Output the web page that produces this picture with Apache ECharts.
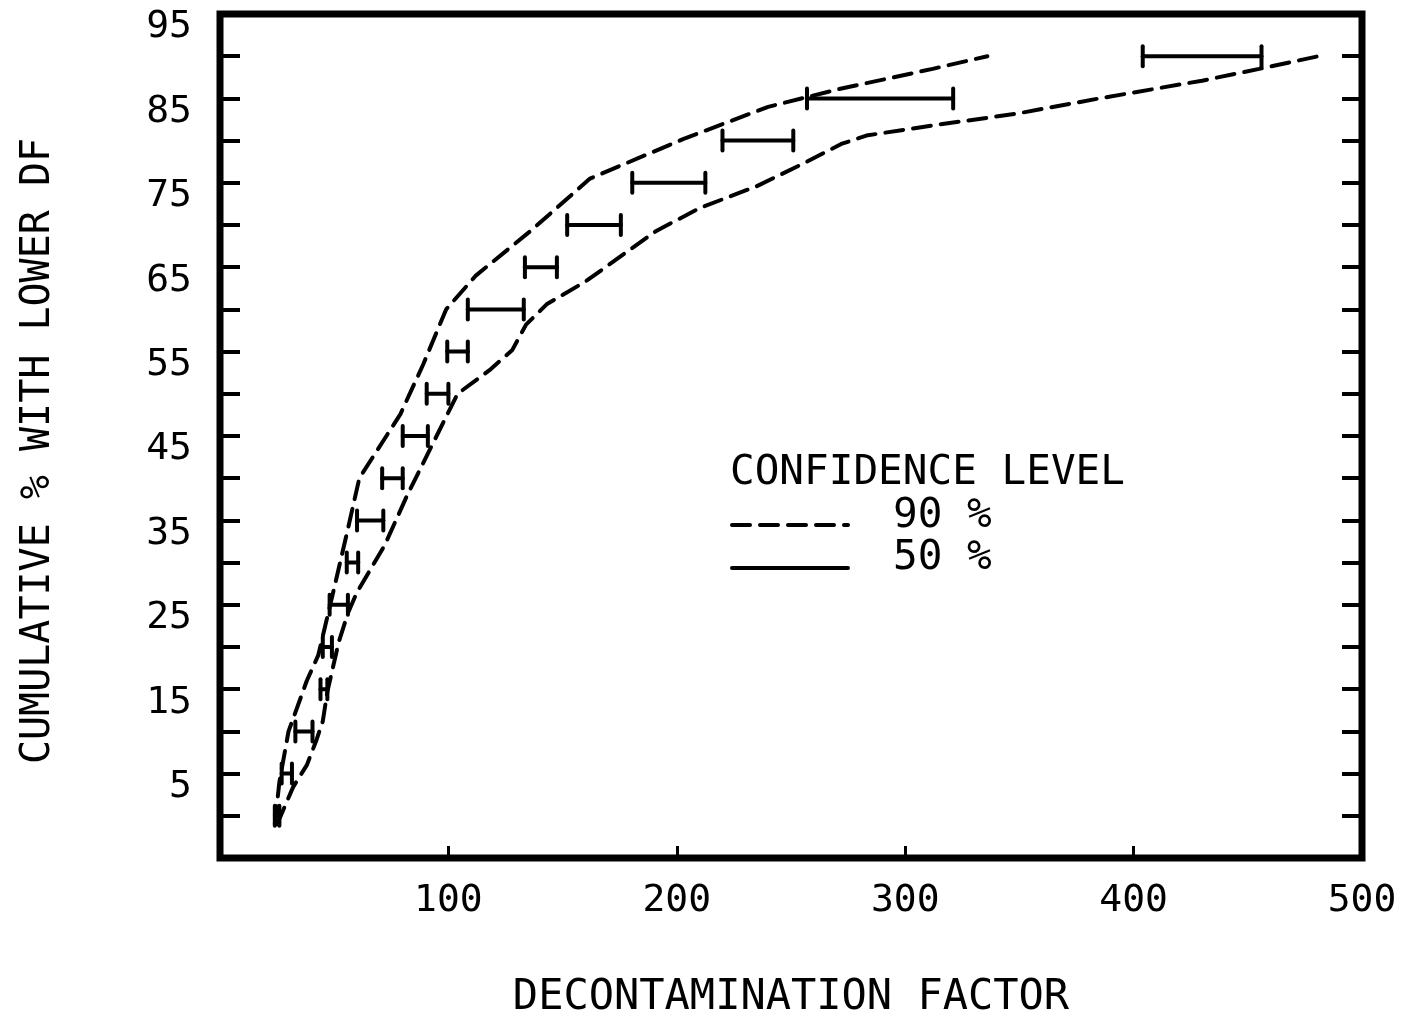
<!DOCTYPE html>
<html>
<head>
<meta charset="utf-8">
<script src="https://cdn.jsdelivr.net/npm/echarts@6/dist/echarts.min.js"></script>
<style>
  html, body { margin: 0; padding: 0; background: #fff; }
  #main { width: 1408px; height: 1024px; }
</style>
</head>
<body>
<div id="main"></div>
<script>
// 90% confidence bounds (dashed), [DF, cumulative %]
const upperBound = [
  [24, -1], [26, 4], [30, 10], [38, 16], [43, 19], [50, 27], [56, 34], [61, 40],
  [79, 47.6], [89, 53.5], [99, 60], [112, 64], [136, 69.3], [162, 75.5],
  [203, 80.2], [240, 84], [271, 86.1], [312, 88.5], [336, 90]
];
const lowerBound = [
  [25, -1], [32, 3.4], [38, 6], [42, 8.8], [45, 11.2], [47, 14.7], [52, 20.6],
  [56, 24], [60, 26.5], [72, 32], [82, 38], [93, 44], [104, 50], [118, 52.8],
  [128, 55.2], [134, 58.2], [143, 60.6], [160, 63.3], [191, 69.3], [210, 72],
  [235, 74.6], [254, 77.1], [272, 79.6], [283, 80.6], [312, 81.8], [349, 83.2],
  [385, 85], [430, 87.1], [455, 88.5], [481, 90]
];

// 50% confidence intervals (solid bars)
const levels = [0, 5, 10, 15, 20, 25, 30, 35, 40, 45, 50, 55, 60, 65, 70, 75, 80, 85, 90];
const barLow  = [24, 27, 33, 44, 45, 48, 55.5, 60, 71, 80, 90.5, 99.5, 108.5, 133.5, 152, 180.5, 220, 257, 404];
const barHigh = [26, 31.5, 40.5, 47, 49, 56, 60.5, 71.5, 80, 91, 100, 108.5, 133, 147.5, 175.5, 212.5, 251, 321, 456];

const xTicks = [100, 200, 300, 400, 500];
const yTickLabels = [5, 15, 25, 35, 45, 55, 65, 75, 85, 95];

const FONT = '"DejaVu Sans Mono", monospace';

const chart = echarts.init(document.getElementById('main'), null, { renderer: 'canvas' });

const barData = levels.map((y, i) => [barLow[i], barHigh[i], y]);

function renderBar(params, api) {
  const a = api.coord([api.value(0), api.value(2)]);
  const b = api.coord([api.value(1), api.value(2)]);
  const cap = 10;
  const style = { stroke: '#000', lineWidth: 4, lineCap: 'round' };
  return {
    type: 'group',
    children: [
      { type: 'line', shape: { x1: a[0], y1: a[1], x2: b[0], y2: b[1] }, style: style },
      { type: 'line', shape: { x1: a[0], y1: a[1] - cap, x2: a[0], y2: a[1] + cap }, style: style },
      { type: 'line', shape: { x1: b[0], y1: b[1] - cap, x2: b[0], y2: b[1] + cap }, style: style }
    ]
  };
}

const yAxisBase = {
  type: 'value',
  min: -5,
  max: 95,
  interval: 5,
  splitLine: { show: false },
  axisLine: { show: false, onZero: false },
  axisTick: { show: true, inside: true, length: 20, lineStyle: { color: '#000', width: 4 } }
};

const option = {
  backgroundColor: '#fff',
  animation: false,
  grid: {
    left: 220, right: 46, top: 14, bottom: 159,
    show: true, borderColor: '#000', borderWidth: 7, backgroundColor: 'transparent'
  },
  xAxis: {
    type: 'value',
    min: 0,
    max: 500,
    interval: 100,
    name: 'DECONTAMINATION FACTOR',
    nameLocation: 'middle',
    nameGap: 119,
    nameTextStyle: { fontFamily: FONT, fontSize: 42, color: '#000' },
    splitLine: { show: false },
    axisLine: { show: false, onZero: false },
    axisTick: { show: true, inside: true, length: 12, lineStyle: { color: '#000', width: 3 } },
    axisLabel: {
      margin: 24,
      fontFamily: FONT,
      fontSize: 38,
      color: '#000',
      formatter: v => (xTicks.indexOf(v) >= 0 ? String(v) : '')
    }
  },
  yAxis: [
    Object.assign({}, yAxisBase, {
      position: 'left',
      name: 'CUMULATIVE % WITH LOWER DF',
      nameLocation: 'middle',
      nameGap: 161,
      nameTextStyle: { fontFamily: FONT, fontSize: 40, color: '#000', padding: [0, 30, 0, 0] },
      axisLabel: {
        margin: 28,
        fontFamily: FONT,
        fontSize: 38,
        color: '#000',
        verticalAlign: 'top',
        lineHeight: 27,
        formatter: v => (yTickLabels.indexOf(v) >= 0 ? String(v) : '')
      }
    }),
    Object.assign({}, yAxisBase, {
      position: 'right',
      axisLabel: { show: false }
    })
  ],
  series: [
    {
      name: '90 %',
      type: 'line',
      data: upperBound,
      symbol: 'none',
      lineStyle: { color: '#000', width: 4, type: [18, 10], cap: 'round' }
    },
    {
      name: '90 %',
      type: 'line',
      data: lowerBound,
      symbol: 'none',
      lineStyle: { color: '#000', width: 4, type: [18, 10], cap: 'round' }
    },
    {
      name: '50 %',
      type: 'custom',
      renderItem: renderBar,
      data: barData,
      encode: { x: [0, 1], y: 2 },
      z: 3
    }
  ],
  graphic: [
    {
      type: 'text', left: 730, top: 453,
      style: { text: 'CONFIDENCE LEVEL', font: '41px ' + FONT, fill: '#000' }
    },
    {
      type: 'line',
      shape: { x1: 732, y1: 525, x2: 848, y2: 525 },
      style: { stroke: '#000', lineWidth: 4, lineDash: [18, 10], lineCap: 'round' }
    },
    {
      type: 'text', left: 893, top: 496,
      style: { text: '90 %', font: '41px ' + FONT, fill: '#000' }
    },
    {
      type: 'line',
      shape: { x1: 732, y1: 568, x2: 848, y2: 568 },
      style: { stroke: '#000', lineWidth: 4, lineCap: 'round' }
    },
    {
      type: 'text', left: 893, top: 538,
      style: { text: '50 %', font: '41px ' + FONT, fill: '#000' }
    }
  ]
};

chart.setOption(option);
</script>
</body>
</html>
